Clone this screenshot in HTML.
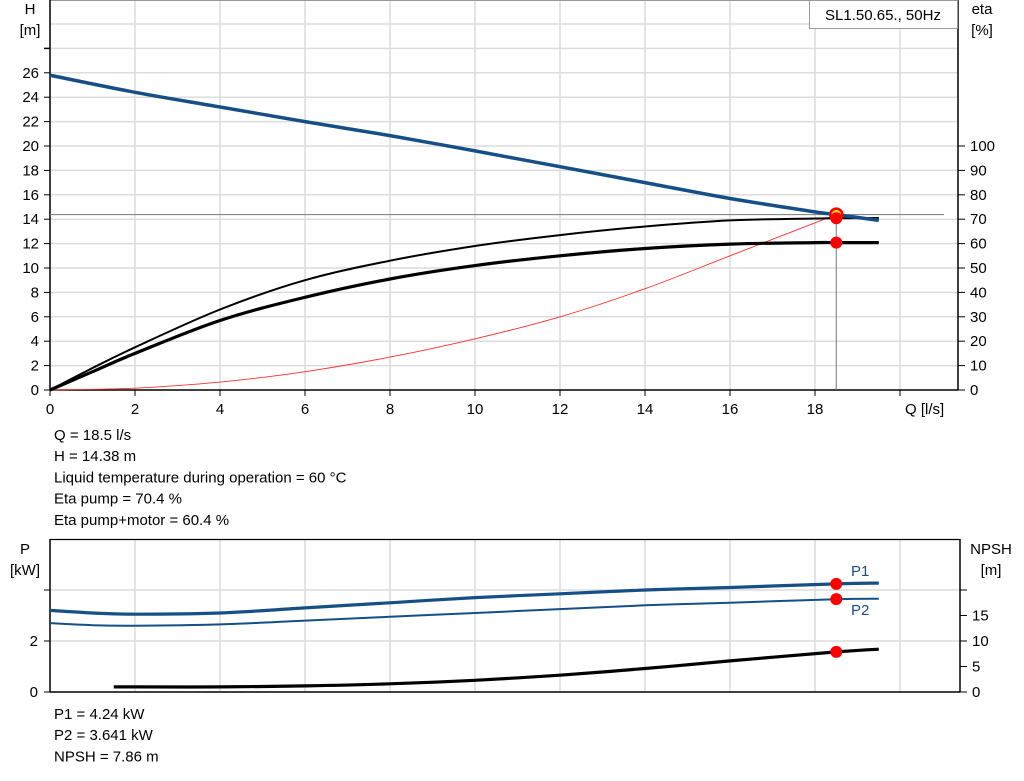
<!DOCTYPE html>
<html><head><meta charset="utf-8"><style>
body{margin:0;background:#fff;width:1024px;height:781px;overflow:hidden;font-family:"Liberation Sans",Arial,sans-serif}
svg{display:block}
text{font-family:"Liberation Sans",Arial,sans-serif;font-size:15px;fill:#000}
</style></head><body>
<svg id="c" width="1024" height="781"></svg>
<script>
const qH=[0,2,4,6,8,10,12,14,16,18,18.5,19.5];
const hVals=[25.8,24.4,23.2,22.0,20.85,19.6,18.3,17.0,15.7,14.6,14.38,13.9];
const qEta=[0,1,2,4,6,8,10,12,14,16,18,18.5,19.5];
const etaPump=[0,9,17.5,33,45,53,59,63.5,67,69.5,70.3,70.4,70.5];
const etaTotal=[0,7.5,15,28.5,38,45.5,51,55,58,59.8,60.4,60.4,60.4];
const qSys=[0,2,4,6,8,10,12,14,16,18.5];
const sysVals=[0,0.15,0.65,1.5,2.7,4.2,6,8.3,11,14.38];
const qP=[0,1,2,4,6,8,10,12,14,16,18.5,19.5];
const p1Vals=[3.2,3.1,3.05,3.1,3.3,3.5,3.7,3.85,4.0,4.1,4.24,4.27];
const p2Vals=[2.7,2.62,2.6,2.65,2.8,2.95,3.1,3.25,3.4,3.5,3.641,3.66];
const qN=[1.5,2,4,6,8,10,12,14,16,18.5,19.5];
const npshVals=[1.0,1.0,1.0,1.2,1.6,2.3,3.3,4.6,6.1,7.86,8.4];
const opQ=18.5, opH=14.38, opEta=70.4, opEtaT=60.4, opP1=4.24, opP2=3.641, opN=7.86;
const xTicks=[0,2,4,6,8,10,12,14,16,18];
const hTicks=[0,2,4,6,8,10,12,14,16,18,20,22,24,26];
const etaTicks=[0,10,20,30,40,50,60,70,80,90,100];
const pTicks=[0,2];
const nTicks=[0,5,10,15];

const NS='http://www.w3.org/2000/svg';
const svg=document.getElementById('c');
function el(t,a,p){const e=document.createElementNS(NS,t);for(const k in a)e.setAttribute(k,a[k]);(p||svg).appendChild(e);return e;}
const X=q=>50+q*42.5;
const YH=h=>390-h*12.2;
const YE=e=>390-e*2.44;
const YP=p=>692-p*25.5;
const YN=n=>692-n*5.1;
function path(xs,ys,fx,fy){return xs.map((q,i)=>(i?'L':'M')+fx(q).toFixed(1)+','+fy(ys[i]).toFixed(1)).join(' ');}
function smooth(xs,ys,fx,fy){const p=xs.map((q,i)=>[fx(q),fy(ys[i])]);let d='M'+p[0][0]+','+p[0][1];for(let i=0;i<p.length-1;i++){const p0=p[i-1]||p[i],p1=p[i],p2=p[i+1],p3=p[i+2]||p2;d+=' C'+(p1[0]+(p2[0]-p0[0])/6).toFixed(1)+','+(p1[1]+(p2[1]-p0[1])/6).toFixed(1)+' '+(p2[0]-(p3[0]-p1[0])/6).toFixed(1)+','+(p2[1]-(p3[1]-p1[1])/6).toFixed(1)+' '+p2[0].toFixed(1)+','+p2[1].toFixed(1);}return d;}

// ---- top chart grid
for(let h=2;h<=32;h+=2){const l=el('line',{x1:50,x2:958,y1:YH(h),y2:YH(h),stroke:'#dcdcdc','stroke-width':1.5});}
for(let q=2;q<=20;q+=2){const l=el('line',{x1:X(q),x2:X(q),y1:0,y2:390,stroke:'#dcdcdc','stroke-width':1.5});}
el('line',{x1:958,x2:958,y1:0,y2:0,stroke:'#999'});
el('line',{x1:50,x2:958,y1:0.5,y2:0.5,stroke:'#999'});
// axes
el('line',{x1:50,x2:50,y1:0,y2:390,stroke:'#000','stroke-width':1.5});
el('line',{x1:958,x2:958,y1:0,y2:390,stroke:'#000','stroke-width':1.5});
el('line',{x1:50,x2:958,y1:390,y2:390,stroke:'#000','stroke-width':1.5});
el('line',{x1:44,x2:50,y1:YH(28),y2:YH(28),stroke:'#000','stroke-width':1.5});
hTicks.forEach(h=>{el('line',{x1:44,x2:50,y1:YH(h),y2:YH(h),stroke:'#000'});const t=el('text',{x:39,y:YH(h)+5,'text-anchor':'end'});t.textContent=h;});
etaTicks.forEach(e=>{el('line',{x1:958,x2:965,y1:YE(e),y2:YE(e),stroke:'#000'});const t=el('text',{x:970,y:YE(e)+5});t.textContent=e;});
xTicks.forEach(q=>{el('line',{x1:X(q),x2:X(q),y1:390,y2:396,stroke:'#000'});const t=el('text',{x:X(q),y:414,'text-anchor':'middle'});t.textContent=q;});
el('line',{x1:X(20),x2:X(20),y1:390,y2:396,stroke:'#000'});
function label(x,y,s,n,a){const t=el('text',{x:x,y:y,'text-anchor':a||'start'});t.textContent=s;}
label(30,14,'H','h-axis-title','middle');label(30,35,'[m]','h-axis-unit','middle');
label(982,14,'eta','eta-axis-title','middle');label(982,35,'[%]','eta-axis-unit','middle');
label(905,414,'Q [l/s]','q-axis-title');
const box=el('rect',{x:809.5,y:0.5,width:148,height:28,fill:'#fff',stroke:'#999'});
label(883,20,'SL1.50.65., 50Hz','pump-name','middle');
// operating lines
el('line',{x1:50,x2:944,y1:YH(opH),y2:YH(opH),stroke:'#777','stroke-width':1});
el('line',{x1:X(opQ),x2:X(opQ),y1:YH(opH),y2:390,stroke:'#777','stroke-width':1});
// curves
let c;
c=el('path',{d:smooth(qSys,sysVals,X,YH),fill:'none',stroke:'#ff3030','stroke-width':0.9});
c=el('path',{d:smooth(qEta,etaPump,X,YE),fill:'none',stroke:'#000','stroke-width':2});
c=el('path',{d:smooth(qEta,etaTotal,X,YE),fill:'none',stroke:'#000','stroke-width':3.2});
c=el('path',{d:smooth(qH,hVals,X,YH),fill:'none',stroke:'#154f86','stroke-width':3.5});
c=el('circle',{cx:X(opQ),cy:YH(opH),r:6,fill:'#ffd800',stroke:'#ff0000','stroke-width':2.5});
c=el('circle',{cx:X(opQ),cy:YE(opEta),r:6,fill:'#ff0000'});
c=el('circle',{cx:X(opQ),cy:YE(opEtaT),r:6,fill:'#ff0000'});

// ---- bottom chart
[2,4].forEach(p=>{el('line',{x1:50,x2:960,y1:YP(p),y2:YP(p),stroke:'#dcdcdc','stroke-width':1.5});});
for(let q=2;q<=20;q+=2){el('line',{x1:X(q),x2:X(q),y1:539,y2:692,stroke:'#dcdcdc','stroke-width':1.5});}
el('line',{x1:50,x2:960,y1:539.5,y2:539.5,stroke:'#000','stroke-width':1.2});
el('line',{x1:50,x2:50,y1:539,y2:692,stroke:'#000','stroke-width':1.5});
el('line',{x1:960,x2:960,y1:539,y2:692,stroke:'#000','stroke-width':1.5});
el('line',{x1:50,x2:960,y1:692,y2:692,stroke:'#000','stroke-width':1.5});
pTicks.forEach(p=>{el('line',{x1:44,x2:50,y1:YP(p),y2:YP(p),stroke:'#000'});label(38,YP(p)+5,String(p),'p-tick-label','end');});
el('line',{x1:44,x2:50,y1:YP(4),y2:YP(4),stroke:'#000'});
nTicks.forEach(n=>{el('line',{x1:960,x2:967,y1:YN(n),y2:YN(n),stroke:'#000'});label(972,YN(n)+5,String(n),'npsh-tick-label');});
el('line',{x1:960,x2:967,y1:YP(4),y2:YP(4),stroke:'#000'});
label(25,554,'P','p-axis-title','middle');label(25,575,'[kW]','p-axis-unit','middle');
label(991,554,'NPSH','npsh-axis-title','middle');label(991,575,'[m]','npsh-axis-unit','middle');
c=el('path',{d:smooth(qP,p1Vals,X,YP),fill:'none',stroke:'#154f86','stroke-width':3.2});
c=el('path',{d:smooth(qP,p2Vals,X,YP),fill:'none',stroke:'#154f86','stroke-width':2});
c=el('path',{d:smooth(qN,npshVals,X,YN),fill:'none',stroke:'#000','stroke-width':3.2});
[[YP(opP1),'p1-point'],[YP(opP2),'p2-point'],[YN(opN),'npsh-point']].forEach(([y,n])=>{const d=el('circle',{cx:X(opQ),cy:y,r:6,fill:'#ff0000'});});
const t1=el('text',{x:851,y:576,fill:'#154f86',style:'fill:#154f86'});t1.textContent='P1';
const t2=el('text',{x:851,y:615,style:'fill:#154f86'});t2.textContent='P2';

// info text
['Q = 18.5 l/s','H = 14.38 m','Liquid temperature during operation = 60 °C','Eta pump = 70.4 %','Eta pump+motor = 60.4 %'].forEach((s,i)=>label(54,440+i*21.2,s,'duty-info-line'));
['P1 = 4.24 kW','P2 = 3.641 kW','NPSH = 7.86 m'].forEach((s,i)=>label(54,719+i*21.2,s,'power-info-line'));
</script>
</body></html>
